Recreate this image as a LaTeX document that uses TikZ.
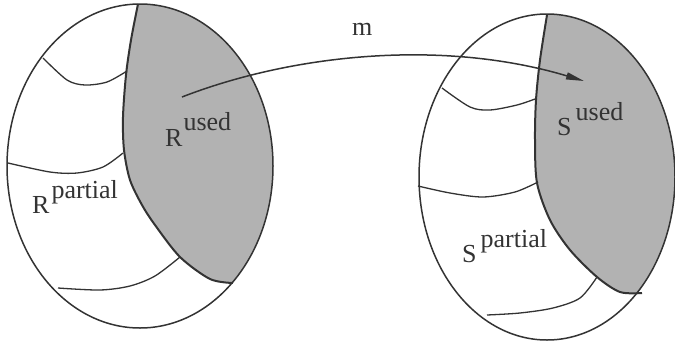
\documentclass[tikz,border=0pt]{standalone}
\usepackage{fontspec}
\setmainfont{Liberation Serif}
\usetikzlibrary{arrows.meta}
\definecolor{ink}{HTML}{333333}
\definecolor{usedgray}{HTML}{B2B2B2}
\begin{document}
\begin{tikzpicture}[x=1pt,y=-1pt,
  outline/.style={draw=ink,line width=1.5pt},
  border/.style={draw=ink,line width=2pt},
  part/.style={draw=ink,line width=1.3pt},
  lbl/.style={anchor=base west,inner sep=0pt,text=ink,font=\fontsize{26}{30}\selectfont},
  maparrow/.style={draw=ink,line width=1.5pt,-{Triangle[length=18pt,width=7pt]}}]
\useasboundingbox (0,0) rectangle (675,341);

% ---------- left set R ----------
\begin{scope}
  \clip (140,166) ellipse [x radius=133, y radius=162];
  \fill[usedgray] plot[smooth] coordinates {(140,-5) (138,4) (131,40) (126,75) (123,117) (124,150) (130,180) (142,205) (155,225) (180,257) (210,279) (233,283)}
    -- (320,300) -- (320,-20) -- (140,-20) -- cycle;
\end{scope}
\draw[outline] (140,166) ellipse [x radius=133, y radius=162];
\draw[border] plot[smooth] coordinates {(138,4) (131,40) (126,75) (123,117) (124,150) (130,180) (142,205) (155,225) (180,257) (210,279) (233,283)};
\draw[part] plot[smooth] coordinates {(43,58) (67,80) (85,85) (107,82) (127,71)};
\draw[part] plot[smooth] coordinates {(8,163) (50,172) (77,173) (103,167) (123,153)};
\draw[part] plot[smooth] coordinates {(58,288) (100,290) (130,286) (155,276) (180,257)};

% ---------- right set S ----------
\begin{scope}
  \clip (547,177) ellipse [x radius=128, y radius=163];
  \fill[usedgray] plot[smooth] coordinates {(548,-5) (547,15) (540,60) (536,100) (535,140) (537,183) (550,220) (570,250) (597,277) (620,292) (642,293)}
    -- (700,310) -- (700,-20) -- (548,-20) -- cycle;
\end{scope}
\draw[outline] (547,177) ellipse [x radius=128, y radius=163];
\draw[border] plot[smooth] coordinates {(547,15) (540,60) (536,100) (535,140) (537,183) (550,220) (570,250) (597,277) (620,292) (642,293)};
\draw[part] plot[smooth] coordinates {(442,88) (470,107) (490,110) (517,105) (535,99)};
\draw[part] plot[smooth] coordinates {(418,186) (450,193) (483,197) (515,192) (538,182)};
\draw[part] plot[smooth] coordinates {(487,315) (520,313) (553,308) (580,298) (597,277)};

% ---------- labels ----------
\node[lbl] (rused) at (165,146) {R\kern1pt\raisebox{16pt}{used}};
\node[lbl] (rpartial) at (32,213) {R\kern2pt\raisebox{15pt}{partial}};
\node[lbl] (sused) at (557,135) {S\kern4pt\raisebox{15pt}{used}};
\node[lbl] (spartial) at (462,262) {S\kern4pt\raisebox{15pt}{partial}};

% ---------- mapping m ----------
\coordinate (mstart) at (182,97);
\coordinate (mend) at (584,81);
\draw[maparrow] (mstart) .. controls (290,55) and (440,38) .. (mend);
\node[lbl] (mlabel) at (352,35) {m};
\end{tikzpicture}
\end{document}
